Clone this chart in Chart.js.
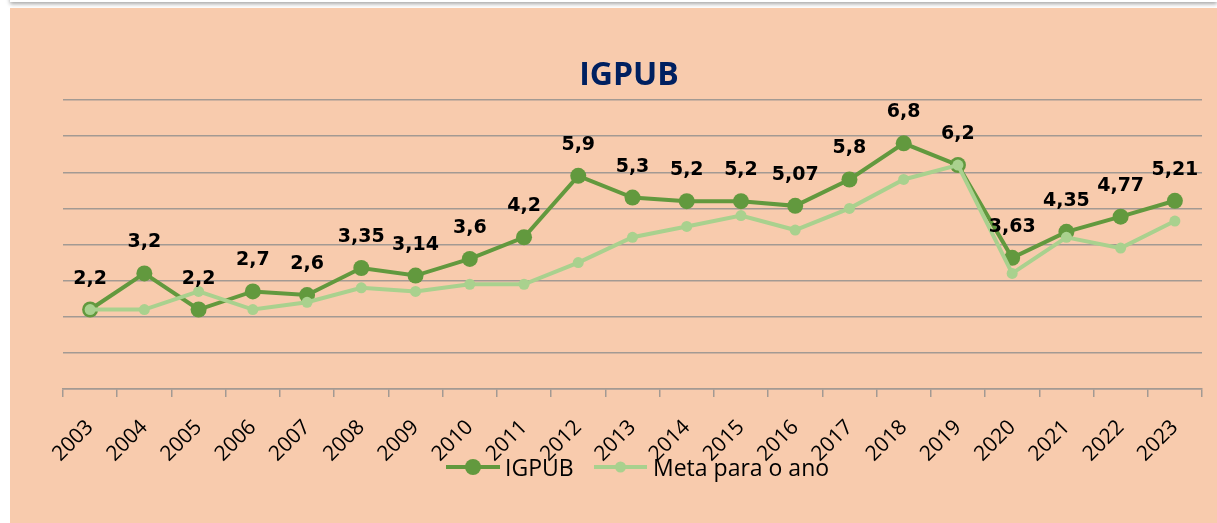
<!DOCTYPE html>
<html>
<head>
<meta charset="utf-8">
<title>IGPUB</title>
<script src="https://cdn.jsdelivr.net/npm/chart.js@4.4.1/dist/chart.umd.min.js"></script>
<style>
    html, body { margin: 0; padding: 0; background: #ffffff; overflow: hidden; }
    #top-strip {
        position: absolute; left: 10px; right: 0; top: -20px; height: 22px;
        background: #ffffff; box-shadow: 0 2px 4px rgba(0, 0, 0, 0.35);
    }
    #chart-box {
        position: absolute; left: 10px; top: 8px; width: 1207px; height: 515px;
        background: #F8CBAD;
    }
</style>
</head>
<body>
<div id="top-strip"></div>
<div id="chart-box"><canvas id="igpub-chart" width="1207" height="515"></canvas></div>
<script>
// Chart data
const years = ['2003', '2004', '2005', '2006', '2007', '2008', '2009', '2010', '2011', '2012', '2013',
               '2014', '2015', '2016', '2017', '2018', '2019', '2020', '2021', '2022', '2023'];
const igpubValues = [2.2, 3.2, 2.2, 2.7, 2.6, 3.35, 3.14, 3.6, 4.2, 5.9, 5.3,
                     5.2, 5.2, 5.07, 5.8, 6.8, 6.2, 3.63, 4.35, 4.77, 5.21];
const metaValues = [2.2, 2.2, 2.7, 2.2, 2.4, 2.8, 2.7, 2.9, 2.9, 3.5, 4.2,
                    4.5, 4.8, 4.4, 5.0, 5.8, 6.2, 3.2, 4.2, 3.9, 4.65];
const yAxisMin = 0;
const yAxisMax = 8;
const yAxisStep = 1;

const gridColor = '#a39a93';

// Brazilian number format: 3.35 -> "3,35"
function formatValue(v) {
    return String(v).replace('.', ',');
}

// Draws value labels, the title and the Excel-style legend
const excelDecorations = {
    id: 'excelDecorations',
    afterDraw(chart) {
        const ctx = chart.ctx;
        ctx.save();

        // value labels above the IGPUB points
        const meta = chart.getDatasetMeta(0);
        ctx.font = 'bold 19px "DejaVu Sans"';
        ctx.fillStyle = '#000000';
        ctx.textAlign = 'center';
        ctx.textBaseline = 'alphabetic';
        meta.data.forEach((pt, i) => {
            ctx.fillText(formatValue(igpubValues[i]), pt.x, pt.y - 26);
        });

        // title
        ctx.font = 'bold 32px "Open Sans"';
        ctx.fillStyle = '#002060';
        ctx.fillText('IGPUB', 619, 77);

        // legend
        const legendY = 459;
        const items = [
            { ds: chart.data.datasets[0], x0: 436, x1: 490, text: 495 },
            { ds: chart.data.datasets[1], x0: 584, x1: 637, text: 643 }
        ];
        ctx.font = '23px "Open Sans"';
        ctx.textAlign = 'left';
        items.forEach(item => {
            ctx.strokeStyle = item.ds.borderColor;
            ctx.lineWidth = item.ds.borderWidth;
            ctx.beginPath();
            ctx.moveTo(item.x0, legendY);
            ctx.lineTo(item.x1, legendY);
            ctx.stroke();
            ctx.fillStyle = item.ds.pointBackgroundColor;
            ctx.beginPath();
            ctx.arc((item.x0 + item.x1) / 2, legendY, item.ds.pointRadius, 0, Math.PI * 2);
            ctx.fill();
            ctx.fillStyle = '#000000';
            ctx.fillText(item.ds.label, item.text, legendY + 9);
        });

        ctx.restore();
    }
};

const ctx = document.getElementById('igpub-chart').getContext('2d');
const igpubChart = new Chart(ctx, {
    type: 'line',
    data: {
        labels: years,
        datasets: [{
            label: 'IGPUB',
            data: igpubValues,
            borderColor: '#62993E',
            backgroundColor: '#62993E',
            pointBackgroundColor: '#62993E',
            pointBorderColor: '#62993E',
            borderWidth: 4,
            pointRadius: 8,
            pointBorderWidth: 0,
            tension: 0,
            order: 1
        }, {
            label: 'Meta para o ano',
            data: metaValues,
            borderColor: '#A9D18E',
            backgroundColor: '#A9D18E',
            pointBackgroundColor: '#A9D18E',
            pointBorderColor: '#A9D18E',
            borderWidth: 4,
            pointRadius: 5.5,
            pointBorderWidth: 0,
            tension: 0,
            order: 0
        }]
    },
    options: {
        responsive: false,
        animation: false,
        events: [],
        layout: {
            padding: { top: 92, right: 15, left: 0, bottom: 0 }
        },
        plugins: {
            legend: { display: false },
            title: { display: false },
            tooltip: { enabled: false }
        },
        scales: {
            x: {
                offset: true,
                grid: {
                    offset: true,
                    drawOnChartArea: false,
                    drawTicks: true,
                    tickLength: 8,
                    color: gridColor,
                    lineWidth: 1.5
                },
                border: { display: true, color: gridColor, width: 1.5 },
                ticks: {
                    autoSkip: false,
                    maxRotation: 45,
                    minRotation: 45,
                    padding: 18,
                    color: '#000000',
                    font: { family: 'Open Sans', size: 21 }
                },
                afterFit(scale) {
                    scale.height = 134;
                }
            },
            y: {
                min: yAxisMin,
                max: yAxisMax,
                ticks: { stepSize: yAxisStep, display: false },
                grid: { color: gridColor, lineWidth: 1.5, drawTicks: false },
                border: { display: false },
                afterFit(scale) {
                    scale.width = 53;
                }
            }
        }
    },
    plugins: [excelDecorations]
});
</script>
</body>
</html>
